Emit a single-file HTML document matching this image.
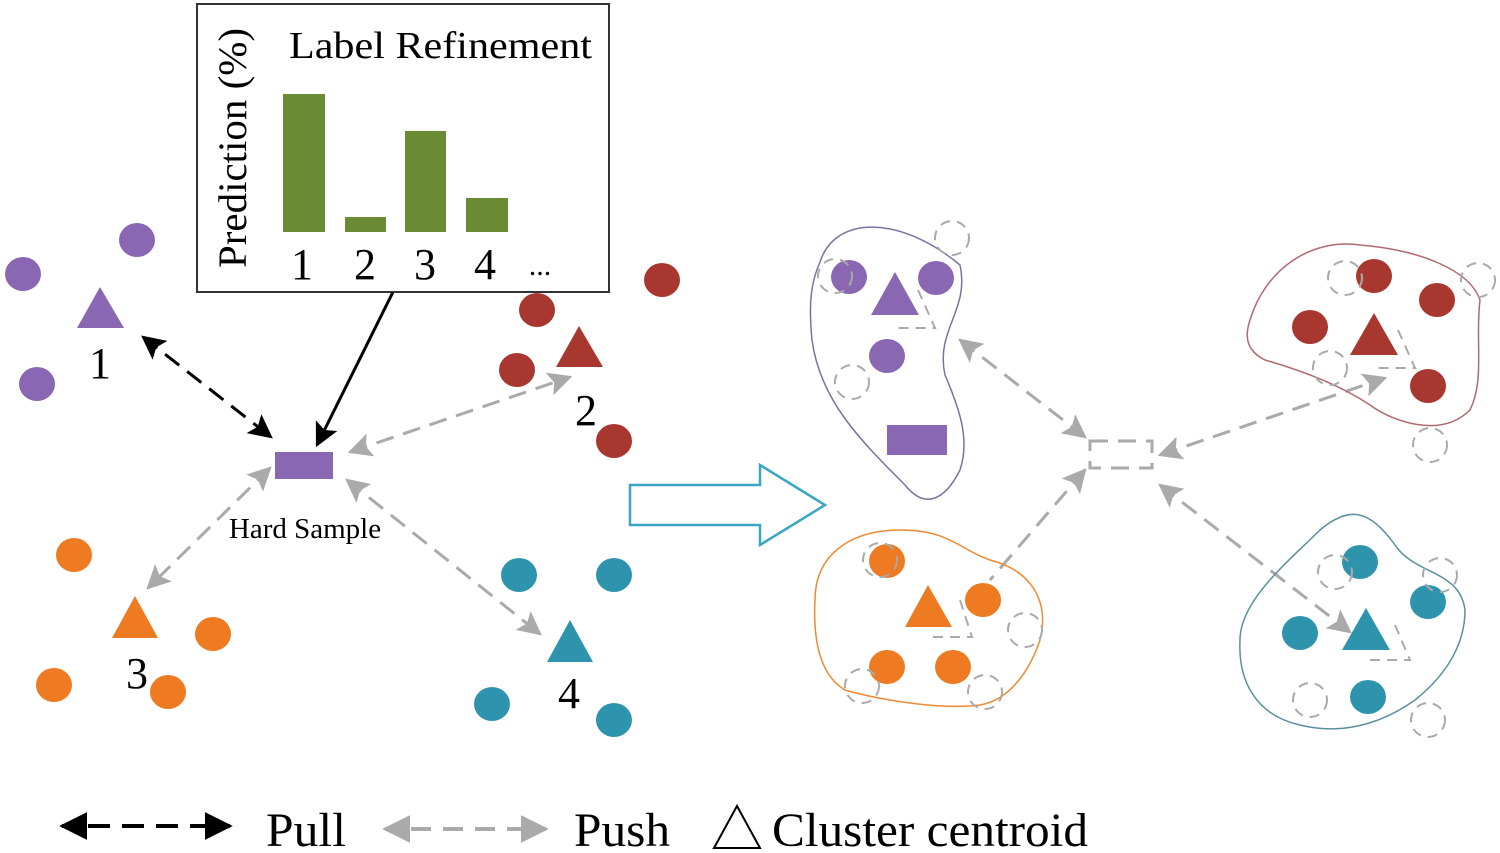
<!DOCTYPE html>
<html><head><meta charset="utf-8"><style>body{margin:0;background:#fff}svg{display:block}</style></head>
<body>
<svg width="1500" height="853" viewBox="0 0 1500 853" xmlns="http://www.w3.org/2000/svg" font-family="Liberation Serif, serif">
<defs>
<marker id="ab" viewBox="0 0 10 10" refX="9" refY="5" markerWidth="8" markerHeight="8" orient="auto-start-reverse"><path d="M0,0L10,5L0,10L2,5z" fill="#000"/></marker>
<marker id="ag" viewBox="0 0 10 10" refX="9" refY="5" markerWidth="8" markerHeight="8" orient="auto-start-reverse"><path d="M0,0L10,5L0,10L2,5z" fill="#aaa"/></marker>
<marker id="lb" viewBox="0 0 10 10" refX="9" refY="5" markerWidth="7" markerHeight="7" orient="auto-start-reverse"><path d="M0,0L10,5L0,10z" fill="#000"/></marker>
<marker id="lg" viewBox="0 0 10 10" refX="9" refY="5" markerWidth="7" markerHeight="7" orient="auto-start-reverse"><path d="M0,0L10,5L0,10z" fill="#aaa"/></marker>
</defs>
<rect x="197" y="4" width="412" height="288" fill="#fff" stroke="#333" stroke-width="2"/>
<text x="289" y="58" font-size="38" textLength="303" lengthAdjust="spacingAndGlyphs">Label Refinement</text>
<text transform="translate(246,268) rotate(-90)" font-size="40" textLength="240" lengthAdjust="spacingAndGlyphs">Prediction (%)</text>
<g fill="#6a8a33">
<rect x="283" y="94" width="42" height="138"/><rect x="345" y="217" width="41" height="15"/>
<rect x="405" y="131" width="41" height="101"/><rect x="466" y="198" width="42" height="34"/></g>
<g font-size="44" text-anchor="middle"><text x="302" y="279">1</text><text x="365" y="279">2</text><text x="425" y="279">3</text><text x="485" y="279">4</text><text x="540" y="275" font-size="30">...</text></g>
<g fill="#8a67b3"><ellipse cx="137" cy="240" rx="18" ry="17"/><ellipse cx="23" cy="274" rx="18" ry="17"/><ellipse cx="37" cy="384" rx="18" ry="17"/><path d="M100,287L124,328L77,328z"/><rect x="275" y="452" width="58" height="27"/>
<ellipse cx="849" cy="277" rx="18" ry="17"/><ellipse cx="936" cy="278" rx="18" ry="17"/><ellipse cx="887" cy="356" rx="18" ry="17"/><path d="M895,272L919,315L871,315z"/><rect x="887" y="425" width="60" height="30"/></g>
<g fill="#a8372f"><ellipse cx="662" cy="280" rx="18" ry="17"/><ellipse cx="537" cy="310" rx="18" ry="17"/><ellipse cx="517" cy="370" rx="18" ry="17"/><ellipse cx="614" cy="441" rx="18" ry="17"/><path d="M579,326L603,367L556,367z"/>
<ellipse cx="1374" cy="276" rx="18" ry="17"/><ellipse cx="1437" cy="300" rx="18" ry="17"/><ellipse cx="1310" cy="327" rx="18" ry="17"/><ellipse cx="1428" cy="386" rx="18" ry="17"/><path d="M1374,313L1398,355L1350,355z"/></g>
<g fill="#ee7a22"><ellipse cx="74" cy="555" rx="18" ry="17"/><ellipse cx="213" cy="634" rx="18" ry="17"/><ellipse cx="54" cy="685" rx="18" ry="17"/><ellipse cx="168" cy="692" rx="18" ry="17"/><path d="M135,596L158,638L112,638z"/>
<ellipse cx="887" cy="561" rx="18" ry="17"/><ellipse cx="983" cy="600" rx="18" ry="17"/><ellipse cx="887" cy="667" rx="18" ry="17"/><ellipse cx="953" cy="667" rx="18" ry="17"/><path d="M928,585L952,627L905,627z"/></g>
<g fill="#2e94ae"><ellipse cx="519" cy="575" rx="18" ry="17"/><ellipse cx="614" cy="575" rx="18" ry="17"/><ellipse cx="492" cy="704" rx="18" ry="17"/><ellipse cx="614" cy="720" rx="18" ry="17"/><path d="M570,620L593,662L547,662z"/>
<ellipse cx="1360" cy="562" rx="18" ry="17"/><ellipse cx="1428" cy="602" rx="18" ry="17"/><ellipse cx="1300" cy="633" rx="18" ry="17"/><ellipse cx="1368" cy="697" rx="18" ry="17"/><path d="M1366,608L1390,650L1342,650z"/></g>
<g font-size="44" text-anchor="middle"><text x="100" y="378">1</text><text x="586" y="425">2</text><text x="137" y="688">3</text><text x="569" y="708">4</text></g>
<text x="305" y="538" font-size="29" text-anchor="middle">Hard Sample</text>
<line x1="393" y1="292" x2="317" y2="445" stroke="#000" stroke-width="3" marker-end="url(#ab)"/>
<line x1="143" y1="337" x2="271" y2="437" stroke="#000" stroke-width="3" stroke-dasharray="18,10" marker-start="url(#ab)" marker-end="url(#ab)"/>
<g stroke="#aaa" stroke-width="3" stroke-dasharray="18,10" fill="none">
<line x1="350" y1="452" x2="570" y2="377" marker-start="url(#ag)" marker-end="url(#ag)"/>
<line x1="270" y1="468" x2="148" y2="588" marker-start="url(#ag)" marker-end="url(#ag)"/>
<line x1="347" y1="480" x2="540" y2="634" marker-start="url(#ag)" marker-end="url(#ag)"/>
<line x1="1085" y1="437" x2="960" y2="340" marker-start="url(#ag)" marker-end="url(#ag)"/>
<line x1="1160" y1="455" x2="1385" y2="378" marker-start="url(#ag)" marker-end="url(#ag)"/>
<line x1="1085" y1="470" x2="990" y2="580" marker-start="url(#ag)"/>
<line x1="1160" y1="485" x2="1350" y2="632" marker-start="url(#ag)" marker-end="url(#ag)"/>
<rect x="1090" y="441" width="62" height="27"/>
</g>
<path d="M630,485L760,485L760,465L825,505L760,545L760,525L630,525z" fill="#fff" stroke="#3aa6c0" stroke-width="2.5"/>
<g fill="none" stroke-width="1.5">
<path d="M820,262C835,215 900,215 960,265C970,310 935,330 945,375C960,410 970,440 960,470C945,500 925,510 905,485C860,440 820,400 812,340C808,300 812,280 820,262z" stroke="#7a72a0"/>
<path d="M1250,320C1265,270 1310,238 1360,245C1420,250 1470,270 1480,300C1475,340 1485,380 1470,410C1440,440 1390,420 1370,405C1340,385 1300,370 1265,360C1245,350 1245,335 1250,320z" stroke="#b06a70"/>
<path d="M815,600C815,555 850,530 900,530C950,530 960,550 990,560C1030,570 1050,600 1040,640C1030,670 1010,700 980,705C940,710 880,700 845,690C820,675 813,640 815,600z" stroke="#ee8a33"/>
<path d="M1240,640C1240,600 1290,560 1320,530C1350,505 1370,510 1395,545C1415,575 1460,570 1465,610C1465,650 1440,680 1415,700C1380,725 1340,735 1300,725C1255,715 1238,680 1240,640z" stroke="#5a8fa0"/>
</g>
<g fill="none" stroke="#aaa" stroke-width="2" stroke-dasharray="10,7">
<circle cx="952" cy="238" r="17"/><circle cx="835" cy="276" r="17"/><circle cx="852" cy="382" r="17"/>
<path d="M918,290L935,328L895,328"/>
<circle cx="1345" cy="278" r="17"/><circle cx="1478" cy="280" r="17"/><circle cx="1330" cy="368" r="17"/><circle cx="1430" cy="445" r="17"/>
<path d="M1398,330L1415,368L1375,368"/>
<circle cx="880" cy="560" r="17"/><circle cx="1025" cy="630" r="17"/><circle cx="862" cy="686" r="17"/><circle cx="985" cy="692" r="17"/>
<path d="M960,600L972,637L930,637"/>
<circle cx="1335" cy="572" r="17"/><circle cx="1440" cy="575" r="17"/><circle cx="1310" cy="700" r="17"/><circle cx="1428" cy="720" r="17"/>
<path d="M1395,625L1410,660L1370,660"/>
</g>
<line x1="62" y1="826" x2="230" y2="826" stroke="#000" stroke-width="4" stroke-dasharray="22,12" stroke-dashoffset="-26" marker-start="url(#lb)" marker-end="url(#lb)"/>
<text x="266" y="846" font-size="48" textLength="80" lengthAdjust="spacingAndGlyphs">Pull</text>
<line x1="385" y1="829" x2="546" y2="829" stroke="#aaa" stroke-width="4" stroke-dasharray="20,12" stroke-dashoffset="-26" marker-start="url(#lg)" marker-end="url(#lg)"/>
<text x="574" y="846" font-size="48" textLength="96" lengthAdjust="spacingAndGlyphs">Push</text>
<path d="M737,806L760,848L714,848z" fill="#fff" stroke="#000" stroke-width="2"/>
<text x="772" y="846" font-size="48" textLength="316" lengthAdjust="spacingAndGlyphs">Cluster centroid</text>
</svg>
</body></html>
